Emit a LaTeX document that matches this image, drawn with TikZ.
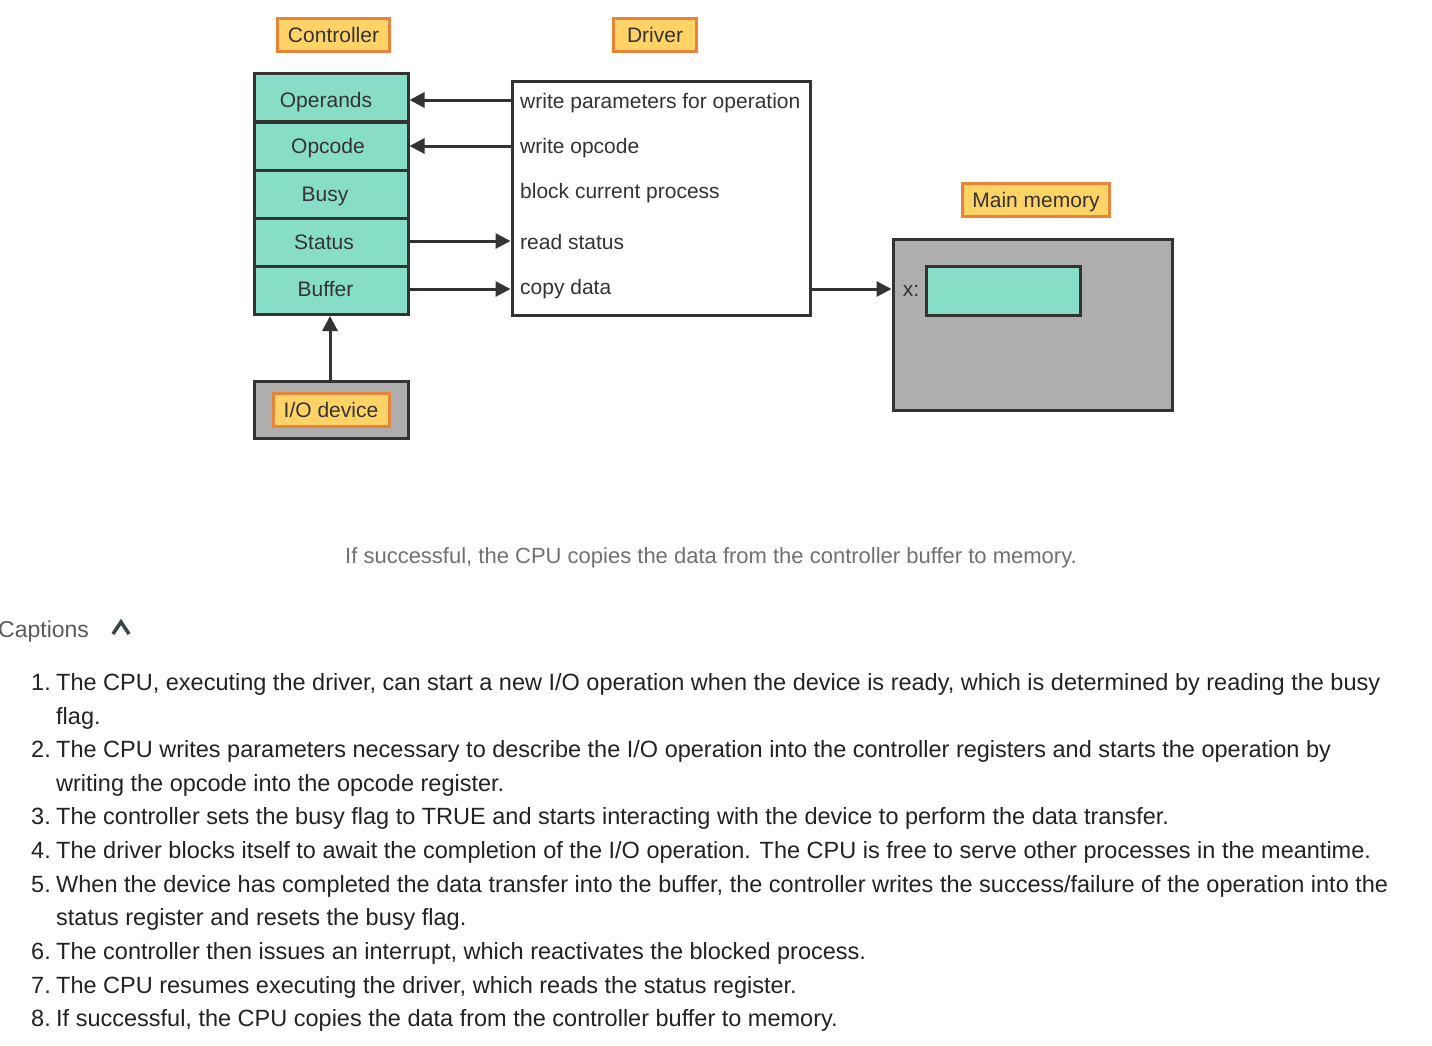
\documentclass[tikz,border=0pt]{standalone}
\usepackage{fontspec}
\setmainfont{Liberation Sans}
\usetikzlibrary{arrows.meta,calc}
\definecolor{lblfill}{HTML}{FFD366}
\definecolor{lbldraw}{HTML}{E8833A}
\definecolor{teal}{HTML}{88DDC7}
\definecolor{memgray}{HTML}{AEAEAE}
\definecolor{ink}{HTML}{333333}
\definecolor{captxt}{HTML}{707070}
\definecolor{listtxt}{HTML}{222222}
\definecolor{chev}{HTML}{37474F}
\tikzset{
  lbl/.style={draw=lbldraw, fill=lblfill, line width=3pt, text=ink, font=\fontsize{21}{25}\selectfont, inner sep=0pt, minimum height=33pt, text height=15.5pt, text depth=0pt},
  reg/.style={draw=ink, fill=teal, line width=3pt, minimum width=154pt, minimum height=48pt, inner sep=0pt},
  regtxt/.style={anchor=base, text=ink, font=\fontsize{21}{25}\selectfont, inner sep=0pt},
  drvtxt/.style={anchor=base west, text=ink, font=\fontsize{21}{25}\selectfont, inner sep=0pt},
  arr/.style={draw=ink, line width=3pt, -{Triangle[length=15pt,width=15pt]}},
  listitem/.style={anchor=base west, text=listtxt, font=\fontsize{23.5}{28}\selectfont, inner sep=0pt},
  listnum/.style={anchor=base east, text=listtxt, font=\fontsize{23.5}{28}\selectfont, inner sep=0pt},
}
\begin{document}
\begin{tikzpicture}[x=1pt,y=-1pt]
\useasboundingbox (0,0) rectangle (1432,1045);
% labels
\node[lbl, minimum width=112pt] (ctl) at (333.5,34.5) {Controller};
\node[lbl, minimum width=83pt] (drv) at (655,34.5) {Driver};
\node[lbl, minimum width=147pt] (mml) at (1036,200) {Main memory};
% registers
\node[reg] (operands) at (331,97.5) {};
\node[reg] (opcode) at (331,146) {};
\node[reg] (busy) at (331,194) {};
\node[reg] (status) at (331,242) {};
\node[reg] (buffer) at (331,290.5) {};
\node[regtxt] (operandsT) at (326,107) {Operands};
\node[regtxt] (opcodeT) at (328,153) {Opcode};
\node[regtxt] (busyT) at (325,201.5) {Busy};
\node[regtxt] (statusT) at (324,249.5) {Status};
\node[regtxt] (bufferT) at (325.5,296.5) {Buffer};
% driver box
\node[draw=ink, line width=3pt, fill=white, minimum width=298pt, minimum height=234pt, inner sep=0pt] (driver) at (661,198) {};
\node[drvtxt] (t1) at (520,108.5) {write parameters for operation};
\node[drvtxt] (t2) at (520,153.5) {write opcode};
\node[drvtxt] (t3) at (520,198.5) {block current process};
\node[drvtxt] (t4) at (520,249.5) {read status};
\node[drvtxt] (t5) at (520,294.5) {copy data};
% main memory
\node[draw=ink, fill=memgray, line width=3pt, minimum width=279pt, minimum height=171pt, inner sep=0pt] (mem) at (1032.5,324.5) {};
\node[draw=ink, fill=teal, line width=3pt, minimum width=154pt, minimum height=49pt, inner sep=0pt] (x) at (1003,290.5) {};
\node[anchor=base, text=ink, font=\fontsize{21}{25}\selectfont, inner sep=0pt] (xl) at (911,296.5) {x:};
% I/O device
\node[draw=ink, fill=memgray, line width=3pt, minimum width=154pt, minimum height=57pt, inner sep=0pt] (io) at (331,409.5) {};
\node[lbl, minimum width=116pt] (iol) at (331,409.5) {I/O device};
% arrows
\draw[arr] (driver.west |- 0,100) -- (operands.east |- 0,100);
\draw[arr] (driver.west |- opcode.east) -- (opcode.east);
\draw[arr] (status.east |- 0,241) -- (driver.west |- 0,241);
\draw[arr] (buffer.east |- 0,289) -- (driver.west |- 0,289);
\draw[arr] (driver.east |- 0,289) -- (mem.west |- 0,289);
\draw[arr] (io.north -| 330,0) -- (buffer.south -| 330,0);
% caption
\node[text=captxt, font=\fontsize{22}{26}\selectfont, inner sep=0pt, anchor=base] (cap) at (711,563) {If successful, the CPU copies the data from the controller buffer to memory.};
\node[text=captxt!80!black, font=\fontsize{23}{27}\selectfont, inner sep=0pt, anchor=base west] (caps) at (-2,637) {Captions};
\coordinate (chv) at (121,622);
\draw[draw=chev, line width=3.5pt] ($(chv)+(-8,12)$) -- (chv) -- ($(chv)+(8,12)$);
% list
\node[listnum] (n1) at (51,690) {1.};
\node[listitem] (l1a) at (56,690) {The CPU, executing the driver, can start a new I/O operation when the device is ready, which is determined by reading the busy};
\node[listitem] (l1b) at (56,724) {flag.};
\node[listnum] (n2) at (51,757) {2.};
\node[listitem] (l2a) at (56,757) {The CPU writes parameters necessary to describe the I/O operation into the controller registers and starts the operation by};
\node[listitem] (l2b) at (56,791) {writing the opcode into the opcode register.};
\node[listnum] (n3) at (51,824) {3.};
\node[listitem] (l3) at (56,824) {The controller sets the busy flag to TRUE and starts interacting with the device to perform the data transfer.};
\node[listnum] (n4) at (51,858) {4.};
\node[listitem] (l4) at (56,858) {The driver blocks itself to await the completion of the I/O operation. The CPU is free to serve other processes in the meantime.};
\node[listnum] (n5) at (51,892) {5.};
\node[listitem] (l5a) at (56,892) {When the device has completed the data transfer into the buffer, the controller writes the success/failure of the operation into the};
\node[listitem] (l5b) at (56,925) {status register and resets the busy flag.};
\node[listnum] (n6) at (51,959) {6.};
\node[listitem] (l6) at (56,959) {The controller then issues an interrupt, which reactivates the blocked process.};
\node[listnum] (n7) at (51,993) {7.};
\node[listitem] (l7) at (56,993) {The CPU resumes executing the driver, which reads the status register.};
\node[listnum] (n8) at (51,1026) {8.};
\node[listitem] (l8) at (56,1026) {If successful, the CPU copies the data from the controller buffer to memory.};
\end{tikzpicture}
\end{document}
